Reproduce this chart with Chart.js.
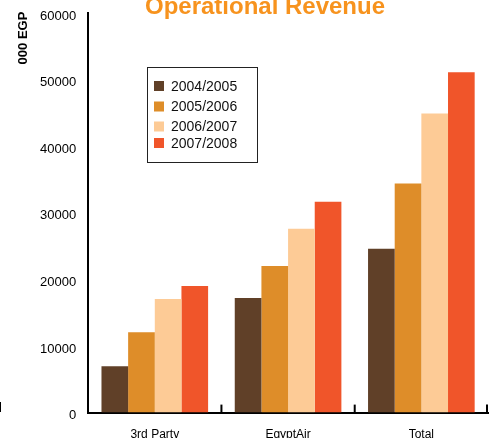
<!DOCTYPE html>
<html>
<head>
<meta charset="utf-8">
<script src="https://cdn.jsdelivr.net/npm/chart.js@4.4.1/dist/chart.umd.min.js"></script>
<style>
html, body { margin: 0; padding: 0; background: #fff; }
#wrap { position: relative; width: 495px; height: 438px; }
</style>
</head>
<body>
<div id="wrap"><canvas id="chart_operationalRevenue"></canvas></div>
<script>
// values in thousand EGP
var categories = ['3rd Party', 'EgyptAir', 'Total'];
var years = ['2004/2005', '2005/2006', '2006/2007', '2007/2008'];
var revenue0405 = [6950, 17200, 24600];
var revenue0506 = [12050, 22000, 34400];
var revenue0607 = [17050, 27600, 44900];
var revenue0708 = [19000, 31650, 51100];
var yTicks = [0, 10000, 20000, 30000, 40000, 50000, 60000];

var colors = ['#604028', '#DE8D29', '#FDCB96', '#F0552A'];
var seriesValues = [revenue0405, revenue0506, revenue0607, revenue0708];

var datasets = years.map(function(y, i) {
    return {
        label: y,
        data: seriesValues[i],
        backgroundColor: colors[i],
        borderWidth: 0,
        categoryPercentage: 0.8,
        barPercentage: 1.0
    };
});

var decorations = {
    id: 'decorations',
    afterDraw: function(chart) {
        var ctx = chart.ctx;
        var area = chart.chartArea;
        ctx.save();

        // title, partly cut at the top like the original
        ctx.fillStyle = '#F7931E';
        ctx.font = 'bold 24px "Liberation Sans", Arial, sans-serif';
        ctx.textAlign = 'center';
        ctx.textBaseline = 'alphabetic';
        ctx.fillText('Operational Revenue', 265, 14);

        // y axis title at the top of the axis
        ctx.save();
        ctx.translate(23, 38);
        ctx.rotate(-Math.PI / 2);
        ctx.fillStyle = '#000';
        ctx.font = 'bold 13px "Liberation Sans", Arial, sans-serif';
        ctx.textAlign = 'center';
        ctx.textBaseline = 'middle';
        ctx.fillText('000 EGP', 0, 0);
        ctx.restore();

        // stray mark at the left edge
        ctx.fillStyle = '#000';
        ctx.fillRect(0, 402, 1, 10);

        // tick marks between categories, pointing up
        ctx.strokeStyle = '#000';
        ctx.lineWidth = 2;
        var step = (area.right - area.left) / categories.length;
        for (var i = 1; i <= categories.length; i++) {
            var px = Math.min(area.left + step * i, area.right - 1);
            ctx.beginPath();
            ctx.moveTo(px, area.bottom);
            ctx.lineTo(px, area.bottom - 8);
            ctx.stroke();
        }

        // legend box
        var bx = 147, by = 67, bw = 110, bh = 95;
        ctx.lineWidth = 1;
        ctx.strokeStyle = '#222';
        ctx.strokeRect(bx + 0.5, by + 0.5, bw, bh);
        var rows = [86, 106.5, 126.5, 143];
        ctx.font = '14px "Liberation Sans", Arial, sans-serif';
        ctx.textAlign = 'left';
        ctx.textBaseline = 'middle';
        chart.data.datasets.forEach(function(ds, i) {
            ctx.fillStyle = ds.backgroundColor;
            ctx.fillRect(154, rows[i] - 5, 10, 10);
            ctx.fillStyle = '#111';
            ctx.fillText(ds.label, 171, rows[i] + 1);
        });
        ctx.restore();
    }
};

var chart_operationalRevenue = new Chart(document.getElementById('chart_operationalRevenue'), {
    type: 'bar',
    data: {
        labels: categories,
        datasets: datasets
    },
    options: {
        animation: false,
        responsive: true,
        maintainAspectRatio: false,
        layout: {
            padding: { left: 28, right: 7, top: 13, bottom: -19 }
        },
        plugins: {
            legend: { display: false },
            title: { display: false },
            tooltip: { enabled: false }
        },
        scales: {
            x: {
                grid: { display: false, drawTicks: false },
                border: { display: true, color: '#000', width: 2 },
                ticks: {
                    color: '#000',
                    padding: 15,
                    font: { family: '"Liberation Sans", Arial, sans-serif', size: 12 }
                }
            },
            y: {
                min: 0,
                max: 60000,
                afterBuildTicks: function(axis) {
                    axis.ticks = yTicks.map(function(v) { return { value: v }; });
                },
                afterFit: function(axis) {
                    axis.paddingTop = 0;
                    axis.paddingBottom = 0;
                },
                grid: { display: false, drawTicks: false },
                border: { display: true, color: '#000', width: 2 },
                ticks: {
                    color: '#000',
                    padding: 12,
                    labelOffset: 3,
                    font: { family: '"Liberation Sans", Arial, sans-serif', size: 13 },
                    callback: function(value) { return String(value); }
                }
            }
        }
    },
    plugins: [decorations]
});
</script>
</body>
</html>
